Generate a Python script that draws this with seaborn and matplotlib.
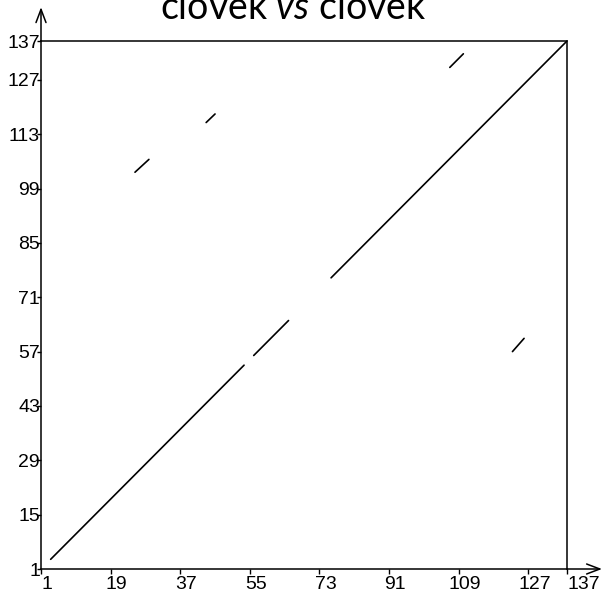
import pandas as pd
import matplotlib
matplotlib.use("Agg")
import matplotlib.pyplot as plt
import matplotlib.transforms as mtrans
import seaborn as sns

# Tick positions along both sequences
x_ticks = [1, 19, 37, 55, 73, 91, 109, 127, 137]
y_ticks = [1, 15, 29, 43, 57, 71, 85, 99, 113, 127, 137]

# Matching segments: start/end positions in sequence 1 (x) and sequence 2 (y)
seg_x_start = [3.5, 56.0, 76.0, 25.3, 43.7, 106.7, 122.9]
seg_x_end = [53.5, 65.0, 137.0, 28.9, 46.0, 110.2, 125.9]
seg_y_start = [3.5, 56.0, 76.0, 103.2, 116.0, 130.2, 57.0]
seg_y_end = [53.5, 65.0, 137.0, 106.5, 118.2, 133.7, 60.4]

rows = []
for i, (x0, x1, y0, y1) in enumerate(zip(seg_x_start, seg_x_end, seg_y_start, seg_y_end)):
    rows.append({"seg": i, "x": x0, "y": y0})
    rows.append({"seg": i, "x": x1, "y": y1})
df = pd.DataFrame(rows)

sns.set_style("white")
plt.rcParams["mathtext.fontset"] = "custom"
plt.rcParams["mathtext.rm"] = "Lato"
plt.rcParams["mathtext.it"] = "Lato:italic"

W, H = 603, 594
fig = plt.figure(figsize=(W / 100, H / 100), dpi=100)
ax = fig.add_axes([41 / W, 25 / H, 526 / W, 528 / H])

sns.lineplot(data=df, x="x", y="y", units="seg", estimator=None, sort=False,
             color="black", linewidth=1.2, ax=ax)

ax.set_xlim(1, 137)
ax.set_ylim(1, 137)
ax.set_xlabel("")
ax.set_ylabel("")
for s in ax.spines.values():
    s.set_visible(True)
    s.set_color("black")
    s.set_linewidth(1.1)

ax.set_xticks(x_ticks)
ax.set_yticks(y_ticks)
ax.set_xticklabels([str(v) for v in x_ticks])
ax.set_yticklabels([str(v) for v in y_ticks])
ax.tick_params(axis="x", direction="out", length=3.6, width=1.0, pad=1.5,
               bottom=True, labelsize=14, colors="black")
ax.tick_params(axis="y", direction="out", length=2.9, width=1.0, pad=-2.2,
               left=True, labelsize=14, colors="black")
for lab in ax.get_xticklabels() + ax.get_yticklabels():
    lab.set_family("Liberation Sans")

# shift x tick labels slightly to the right of their ticks
for lab, v in zip(ax.get_xticklabels(), x_ticks):
    dx = 17 if v == 137 else 6
    lab.set_transform(lab.get_transform() + mtrans.ScaledTranslation(dx / 100, 0, fig.dpi_scale_trans))

# axis arrows
arrow = dict(arrowstyle="->, head_length=0.95, head_width=0.36", lw=1.1,
             color="black", shrinkA=0, shrinkB=0, mutation_scale=10)
ax.annotate("", xy=(0, 1.064), xytext=(0, 1.0), xycoords="axes fraction",
            arrowprops=arrow, annotation_clip=False)
ax.annotate("", xy=(1.0665, 0), xytext=(1.0, 0), xycoords="axes fraction",
            arrowprops=arrow, annotation_clip=False)

fig.text(293 / W, 1 - 19 / H, r"clovek $\mathit{vs}$ clovek", ha="center",
         va="baseline", fontsize=27, family="Lato", color="black")

fig.savefig("out.png", dpi=100)
